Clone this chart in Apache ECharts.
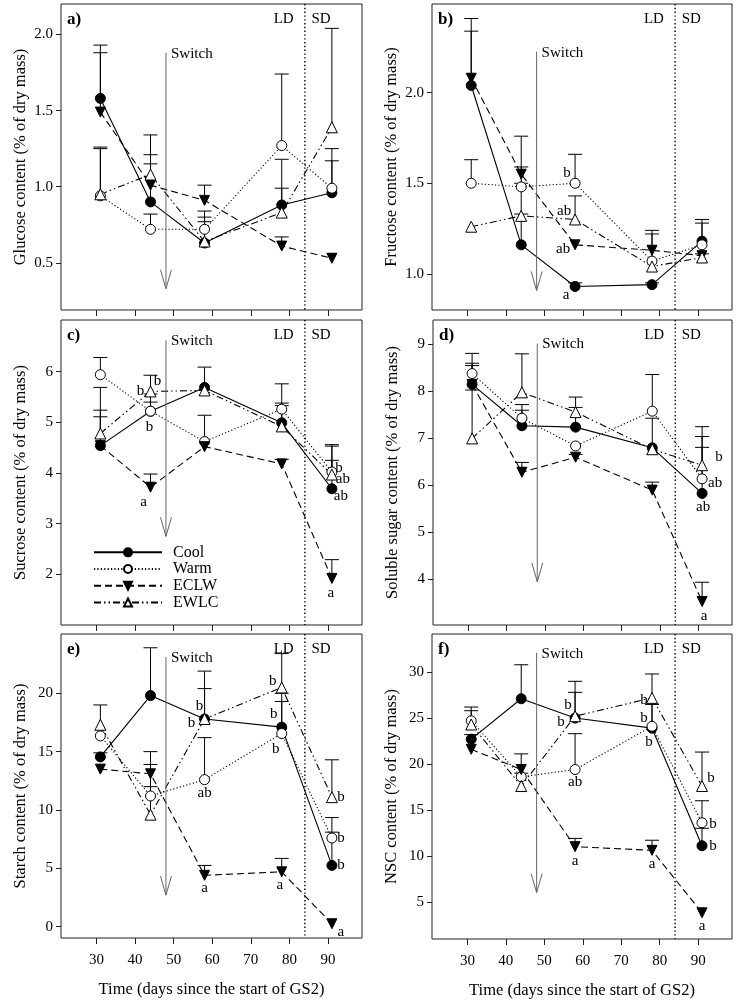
<!DOCTYPE html>
<html><head><meta charset="utf-8">
<script src="https://cdn.jsdelivr.net/npm/echarts@6/dist/echarts.min.js"></script>
<style>html,body{margin:0;padding:0;background:#fff}#c{width:738px;height:1000px}</style>
</head><body><div id="c"></div>
<script>
// ---------------- DATA ----------------
const days = [31, 44, 58, 78, 91];
const xTicks = [30, 40, 50, 60, 70, 80, 90];
const treatments = ['Cool', 'Warm', 'ECLW', 'EWLC'];
const switchDay = 48;
const photoperiodDay = 84;
const xTitle = 'Time (days since the start of GS2)';

// a) Glucose  (mean, mean + SE)
const glucoseCool = [1.58, 0.90, 0.63, 0.88, 0.96];
const glucoseCoolTop = [1.93, 1.15, 0.80, 1.18, 1.17];
const glucoseWarm = [0.94, 0.72, 0.72, 1.27, 0.99];
const glucoseWarmTop = [1.26, 0.82, 0.84, 1.74, 1.25];
const glucoseECLW = [1.49, 1.01, 0.91, 0.61, 0.53];
const glucoseECLWTop = [1.88, 1.21, 1.01, 0.67, 0.53];
const glucoseEWLC = [0.95, 1.08, 0.64, 0.83, 1.39];
const glucoseEWLCTop = [1.25, 1.34, 0.77, 0.99, 2.04];

// b) Fructose
const fructoseCool = [2.04, 1.16, 0.93, 0.94, 1.18];
const fructoseCoolTop = [2.34, 1.59, 0.95, 0.95, 1.30];
const fructoseWarm = [1.50, 1.48, 1.50, 1.07, 1.16];
const fructoseWarmTop = [1.63, 1.50, 1.66, 1.24, 1.28];
const fructoseECLW = [2.08, 1.55, 1.16, 1.13, 1.10];
const fructoseECLWTop = [2.41, 1.76, 1.16, 1.22, 1.10];
const fructoseEWLC = [1.26, 1.32, 1.30, 1.04, 1.09];
const fructoseEWLCTop = [1.26, 1.33, 1.43, 1.04, 1.11];

// c) Sucrose
const sucroseCool = [4.54, 5.22, 5.69, 4.99, 3.69];
const sucroseCoolTop = [5.11, 5.40, 6.09, 5.76, 4.25];
const sucroseWarm = [5.94, 5.22, 4.62, 5.26, 4.02];
const sucroseWarmTop = [6.28, 5.56, 5.14, 5.38, 4.56];
const sucroseECLW = [4.54, 3.72, 4.52, 4.18, 1.92];
const sucroseECLWTop = [5.24, 3.98, 4.52, 4.27, 2.29];
const sucroseEWLC = [4.78, 5.61, 5.63, 4.92, 3.97];
const sucroseEWLCTop = [5.69, 5.93, 5.63, 5.33, 4.53];

// d) Soluble sugar
const solubleCool = [8.15, 7.27, 7.24, 6.80, 5.83];
const solubleCoolTop = [8.60, 7.60, 7.66, 7.43, 6.81];
const solubleWarm = [8.38, 7.43, 6.84, 7.58, 6.14];
const solubleWarmTop = [8.81, 7.72, 6.84, 8.36, 7.04];
const solubleECLW = [8.15, 6.28, 6.60, 5.90, 3.53];
const solubleECLWTop = [8.55, 6.49, 6.66, 6.07, 3.94];
const solubleEWLC = [7.00, 7.98, 7.56, 6.77, 6.43];
const solubleEWLCTop = [8.03, 8.80, 7.88, 6.77, 7.25];

// e) Starch
const starchCool = [14.55, 19.8, 17.8, 17.1, 5.25];
const starchCoolTop = [14.9, 23.9, 20.4, 20.0, 8.1];
const starchWarm = [16.35, 11.2, 12.6, 16.55, 7.6];
const starchWarmTop = [16.35, 12.0, 16.2, 19.3, 9.35];
const starchECLW = [13.5, 13.1, 4.4, 4.7, 0.25];
const starchECLWTop = [13.5, 13.9, 5.25, 5.85, 0.25];
const starchEWLC = [17.3, 9.6, 17.8, 20.5, 11.1];
const starchEWLCTop = [19.0, 15.0, 21.9, 23.4, 14.3];

// f) NSC
const nscCool = [22.7, 27.1, 25.0, 23.9, 11.1];
const nscCoolTop = [23.2, 30.8, 27.8, 26.5, 13.0];
const nscWarm = [24.7, 18.6, 19.4, 24.1, 13.6];
const nscWarmTop = [26.2, 19.0, 23.3, 26.5, 16.0];
const nscECLW = [21.6, 19.4, 11.0, 10.6, 3.8];
const nscECLWTop = [21.6, 21.1, 11.9, 11.7, 3.8];
const nscEWLC = [24.3, 17.6, 25.2, 27.2, 17.6];
const nscEWLCTop = [25.8, 17.6, 29.0, 29.8, 21.3];

// y tick labels
const glucoseTicks = [0.5, 1.0, 1.5, 2.0];
const fructoseTicks = [1.0, 1.5, 2.0];
const sucroseTicks = [2, 3, 4, 5, 6];
const solubleTicks = [4, 5, 6, 7, 8, 9];
const starchTicks = [0, 5, 10, 15, 20];
const nscTicks = [5, 10, 15, 20, 25, 30];

// significance letters: [treatment, day index, letter]
const fructoseLetters = [['Warm',2,'b'],['EWLC',2,'ab'],['ECLW',2,'ab'],['Cool',2,'a']];
const sucroseLetters = [['Cool',1,'b'],['EWLC',1,'b'],['Warm',1,'b'],['ECLW',1,'a'],
  ['Warm',4,'b'],['EWLC',4,'ab'],['Cool',4,'ab'],['ECLW',4,'a']];
const solubleLetters = [['EWLC',4,'b'],['Warm',4,'ab'],['Cool',4,'ab'],['ECLW',4,'a']];
const starchLetters = [['EWLC',2,'b'],['Cool',2,'b'],['Warm',2,'ab'],['ECLW',2,'a'],
  ['EWLC',3,'b'],['Cool',3,'b'],['Warm',3,'b'],['ECLW',3,'a'],
  ['EWLC',4,'b'],['Warm',4,'b'],['Cool',4,'b'],['ECLW',4,'a']];
const nscLetters = [['EWLC',2,'b'],['Cool',2,'b'],['Warm',2,'ab'],['ECLW',2,'a'],
  ['EWLC',3,'b'],['Warm',3,'b'],['Cool',3,'b'],['ECLW',3,'a'],
  ['EWLC',4,'b'],['Warm',4,'b'],['Cool',4,'b'],['ECLW',4,'a']];

// ---------------- LAYOUT / STYLE ----------------
const FONT = '"Liberation Serif", "Times New Roman", serif';
const X_MIN = 20.8, X_MAX = 98.8;
const grids = [
  {left: 61, top: 4, width: 301, height: 306},
  {left: 432, top: 4, width: 300, height: 306},
  {left: 61, top: 320, width: 301, height: 305},
  {left: 433, top: 320, width: 299, height: 305},
  {left: 61, top: 634, width: 301, height: 304},
  {left: 432, top: 634, width: 300, height: 306}
];
// letter offsets (px) from their point
const letterOffsets = {
  b: [[-8,-10],[-11,-8],[-12,4],[-9,9]],
  c: [[-10,-20],[7,-10],[-1,16],[-7,15],[7,-4],[11,5],[9,7],[-1,15]],
  d: [[17,-8],[13,4],[1,14],[2,15]],
  e: [[-5,-13],[-13,4],[0,13],[0,13],[-9,-6],[-8,-13],[-6,16],[-2,13],[9,0],[9,0],[9,0],[9,8]],
  f: [[-7,-11],[-14,4],[0,13],[0,14],[-8,2],[-8,-8],[-3,14],[0,14],[9,-8],[11,1],[11,0],[0,13]]
};
const styles = {
  Cool: {symbol: 'circle', size: 10, fill: '#000', dash: 'solid', rot: 0},
  Warm: {symbol: 'circle', size: 10, fill: '#fff', dash: [1.2, 2.2], rot: 0},
  ECLW: {symbol: 'triangle', size: 10, fill: '#000', dash: [7, 4], rot: 180},
  EWLC: {symbol: 'triangle', size: 11, fill: '#fff', dash: [7, 3, 1.5, 3, 1.5, 3], rot: 0}
};

const panels = [
  {key:'a', label:'a)', yName:'Glucose content (% of dry mass)', yMin:0.19, yMax:2.2, ticks:glucoseTicks, dec:1,
   arrow:[1.88, 0.33], letters:[],
   s:{Cool:[glucoseCool,glucoseCoolTop], Warm:[glucoseWarm,glucoseWarmTop], ECLW:[glucoseECLW,glucoseECLWTop], EWLC:[glucoseEWLC,glucoseEWLCTop]}},
  {key:'b', label:'b)', yName:'Fructose content (% of dry mass)', yMin:0.8, yMax:2.49, ticks:fructoseTicks, dec:1,
   arrow:[2.227, 0.908], letters:fructoseLetters,
   s:{Cool:[fructoseCool,fructoseCoolTop], Warm:[fructoseWarm,fructoseWarmTop], ECLW:[fructoseECLW,fructoseECLWTop], EWLC:[fructoseEWLC,fructoseEWLCTop]}},
  {key:'c', label:'c)', yName:'Sucrose content (% of dry mass)', yMin:1.0, yMax:7.02, ticks:sucroseTicks, dec:0,
   arrow:[6.62, 2.75], letters:sucroseLetters,
   s:{Cool:[sucroseCool,sucroseCoolTop], Warm:[sucroseWarm,sucroseWarmTop], ECLW:[sucroseECLW,sucroseECLWTop], EWLC:[sucroseEWLC,sucroseEWLCTop]}},
  {key:'d', label:'d)', yName:'Soluble sugar content (% of dry mass)', yMin:3.03, yMax:9.52, ticks:solubleTicks, dec:0,
   arrow:[9.02, 3.95], letters:solubleLetters,
   s:{Cool:[solubleCool,solubleCoolTop], Warm:[solubleWarm,solubleWarmTop], ECLW:[solubleECLW,solubleECLWTop], EWLC:[solubleEWLC,solubleEWLCTop]}},
  {key:'e', label:'e)', yName:'Starch content (% of dry mass)', yMin:-0.97, yMax:25.08, ticks:starchTicks, dec:0,
   arrow:[23.1, 2.7], letters:starchLetters,
   s:{Cool:[starchCool,starchCoolTop], Warm:[starchWarm,starchWarmTop], ECLW:[starchECLW,starchECLWTop], EWLC:[starchEWLC,starchEWLCTop]}},
  {key:'f', label:'f)', yName:'NSC content (% of dry mass)', yMin:0.95, yMax:34.15, ticks:nscTicks, dec:0,
   arrow:[32.1, 6.0], letters:nscLetters,
   s:{Cool:[nscCool,nscCoolTop], Warm:[nscWarm,nscWarmTop], ECLW:[nscECLW,nscECLWTop], EWLC:[nscEWLC,nscEWLCTop]}}
];

// ---------------- BUILD ----------------
function errRender(params, api) {
  const x = api.value(0), m = api.value(1), t = api.value(2);
  if (!(t > m)) return null;
  const p1 = api.coord([x, m]), p2 = api.coord([x, t]);
  return {type: 'group', children: [
    {type: 'line', shape: {x1: p1[0], y1: p1[1], x2: p2[0], y2: p2[1]}, style: {stroke: '#000', lineWidth: 1}},
    {type: 'line', shape: {x1: p2[0] - 7, y1: p2[1], x2: p2[0] + 7, y2: p2[1]}, style: {stroke: '#000', lineWidth: 1}}
  ]};
}

function decorRender(p) {
  return function (params, api) {
    const ch = [];
    const tl = api.coord([X_MIN, p.yMax]);
    const d1 = api.coord([photoperiodDay, p.yMax]), d2 = api.coord([photoperiodDay, p.yMin]);
    ch.push({type: 'line', shape: {x1: d1[0], y1: d1[1], x2: d2[0], y2: d2[1]},
      style: {stroke: '#000', lineWidth: 1.4, lineDash: [1.4, 2.4]}});
    const a1 = api.coord([switchDay, p.arrow[0]]), a2 = api.coord([switchDay, p.arrow[1]]);
    ch.push({type: 'line', shape: {x1: a1[0], y1: a1[1], x2: a2[0], y2: a2[1]}, style: {stroke: '#666', lineWidth: 1}});
    ch.push({type: 'polyline', shape: {points: [[a2[0] - 5.5, a2[1] - 19], [a2[0], a2[1]], [a2[0] + 5.5, a2[1] - 19]]},
      style: {stroke: '#666', fill: 'none', lineWidth: 1}});
    ch.push({type: 'text', style: {text: 'Switch', x: a1[0] + 5, y: a1[1] + 1, textAlign: 'left', textVerticalAlign: 'middle',
      font: '15px ' + FONT, fill: '#000'}});
    const ld = api.coord([78.5, p.yMax]), sd = api.coord([88.2, p.yMax]);
    ch.push({type: 'text', style: {text: 'LD', x: ld[0], y: ld[1] + 15, textAlign: 'center', textVerticalAlign: 'middle', font: '15px ' + FONT, fill: '#000'}});
    ch.push({type: 'text', style: {text: 'SD', x: sd[0], y: sd[1] + 15, textAlign: 'center', textVerticalAlign: 'middle', font: '15px ' + FONT, fill: '#000'}});
    ch.push({type: 'text', style: {text: p.label, x: tl[0] + 6, y: tl[1] + 16, textAlign: 'left', textVerticalAlign: 'middle',
      font: 'bold 17px ' + FONT, fill: '#000'}});
    const offs = letterOffsets[p.key] || [];
    p.letters.forEach(function (L, k) {
      const vals = p.s[L[0]][0];
      const pt = api.coord([days[L[1]], vals[L[1]]]);
      const o = offs[k] || [0, 0];
      ch.push({type: 'text', style: {text: L[2], x: pt[0] + o[0], y: pt[1] + o[1], textAlign: 'center', textVerticalAlign: 'middle',
        font: '15px ' + FONT, fill: '#000'}});
    });
    return {type: 'group', children: ch};
  };
}

const option = {
  animation: false,
  backgroundColor: '#fff',
  grid: [], xAxis: [], yAxis: [], series: [],
  legend: {
    data: treatments, orient: 'vertical', left: 88, top: 539,
    itemWidth: 68, itemHeight: 10, itemGap: 0,
    selectedMode: false,
    textStyle: {fontFamily: FONT, fontSize: 16, color: '#000', lineHeight: 16.7, padding: [0, 0, 0, 6]}
  }
};

panels.forEach(function (p, i) {
  const g = grids[i];
  option.grid.push({left: g.left, top: g.top, width: g.width, height: g.height, show: true,
    borderColor: '#222', borderWidth: 1, backgroundColor: 'transparent', containLabel: false});
  const bottomRow = i >= 4;
  option.xAxis.push({
    type: 'value', gridIndex: i, min: X_MIN, max: X_MAX,
    axisLine: {show: false, onZero: false},
    axisTick: {show: true, length: 6, customValues: xTicks, lineStyle: {color: '#222', width: 1}},
    axisLabel: {show: bottomRow, customValues: xTicks, margin: 15, fontSize: 15, color: '#000', fontFamily: FONT},
    splitLine: {show: false},
    name: bottomRow ? xTitle : '', nameLocation: 'middle', nameGap: 43,
    nameTextStyle: {fontSize: 16.5, color: '#000', fontFamily: FONT}
  });
  option.yAxis.push({
    type: 'value', gridIndex: i, min: p.yMin, max: p.yMax,
    axisLine: {show: false, onZero: false},
    axisTick: {show: true, length: 5, customValues: p.ticks, lineStyle: {color: '#222', width: 1}},
    axisLabel: {customValues: p.ticks, margin: 8, fontSize: 15, color: '#000', fontFamily: FONT,
      formatter: function (v) { return (+v).toFixed(p.dec); }},
    splitLine: {show: false},
    name: p.yName, nameLocation: 'middle', nameGap: 32, nameRotate: 90,
    nameTextStyle: {fontSize: 16.5, color: '#000', fontFamily: FONT}
  });
  treatments.forEach(function (t) {
    const mean = p.s[t][0], top = p.s[t][1];
    option.series.push({
      type: 'custom', xAxisIndex: i, yAxisIndex: i, z: 1, silent: true, clip: false,
      renderItem: errRender,
      data: days.map(function (d, k) { return [d, mean[k], top[k]]; })
    });
  });
  treatments.forEach(function (t) {
    const st = styles[t];
    option.series.push({
      name: t, type: 'line', xAxisIndex: i, yAxisIndex: i, z: 3,
      symbol: st.symbol, symbolSize: st.size, symbolRotate: st.rot, showAllSymbol: true,
      lineStyle: {color: '#000', width: 1.1, type: st.dash},
      itemStyle: {color: st.fill, borderColor: '#000', borderWidth: 1, opacity: 1},
      emphasis: {disabled: true},
      data: days.map(function (d, k) { return [d, p.s[t][0][k]]; })
    });
  });
  option.series.push({
    type: 'custom', xAxisIndex: i, yAxisIndex: i, z: 5, silent: true, clip: false,
    renderItem: decorRender(p),
    data: [[switchDay, p.arrow[0]]]
  });
});

const chart = echarts.init(document.getElementById('c'), null, {renderer: 'canvas'});
chart.setOption(option);
</script>
</body></html>
